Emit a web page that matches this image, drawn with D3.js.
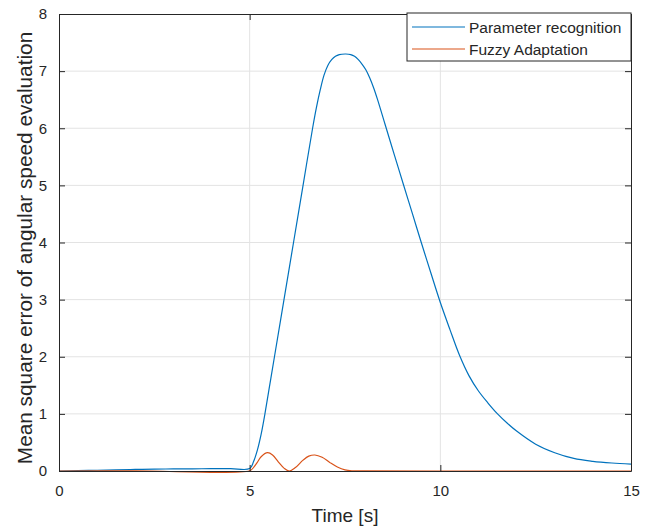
<!DOCTYPE html>
<html>
<head>
<meta charset="utf-8">
<script src="https://cdn.jsdelivr.net/npm/d3@7"></script>
<style>
  body { margin: 0; background: #fff; }
  text { font-family: "Liberation Sans", Arial, sans-serif; fill: #262626; }
</style>
</head>
<body>
<div id="chart"></div>
<script>
// values
var seriesNames = ["Parameter recognition", "Fuzzy Adaptation"];
var seriesColors = ["#0072bd", "#d95319"];

var tParam = [0, 0.5, 1, 1.5, 2, 2.5, 3, 3.5, 4, 4.5, 5.0, 5.1, 5.2, 5.3, 5.4, 5.52, 5.65, 5.9, 6.15, 6.4, 6.65, 6.75, 6.85, 6.95, 7.05, 7.15, 7.25, 7.35, 7.52, 7.65, 7.75, 7.85, 7.95, 8.05, 8.15, 8.25, 8.35, 8.55, 8.8, 9.03, 9.27, 9.5, 9.75, 10.0, 10.25, 10.5, 10.75, 11, 11.25, 11.5, 11.75, 12, 12.5, 13, 13.5, 14, 14.5, 15];
var vParam = [0, 0.006, 0.013, 0.02, 0.027, 0.032, 0.036, 0.038, 0.04, 0.041, 0.042, 0.16, 0.36, 0.64, 1.0, 1.48, 2.0, 3.0, 4.0, 5.0, 6.0, 6.36, 6.67, 6.93, 7.1, 7.2, 7.26, 7.29, 7.3, 7.29, 7.26, 7.2, 7.12, 7.02, 6.88, 6.71, 6.51, 6.07, 5.52, 5.02, 4.5, 4.0, 3.47, 2.95, 2.48, 2.03, 1.67, 1.4, 1.19, 1.0, 0.84, 0.7, 0.47, 0.32, 0.22, 0.17, 0.14, 0.12];

var tFuzzy = [0, 2, 5, 5.1, 5.2, 5.3, 5.47, 5.6, 5.75, 5.9, 6.04, 6.2, 6.4, 6.55, 6.71, 6.9, 7.1, 7.3, 7.5, 7.7, 8, 10, 15];
var vFuzzy = [0, 0.004, 0.005, 0.06, 0.15, 0.25, 0.32, 0.28, 0.16, 0.05, 0.0, 0.06, 0.19, 0.26, 0.28, 0.24, 0.15, 0.07, 0.02, 0.004, 0.001, 0, 0];

var xTicks = [0, 5, 10, 15];
var yTicks = [0, 1, 2, 3, 4, 5, 6, 7, 8];

var margin = {top: 14, right: 23, bottom: 56, left: 59},
    width = 654 - margin.left - margin.right,
    height = 527 - margin.top - margin.bottom;

var svg = d3.select("#chart")
  .append("svg")
    .attr("width", 654)
    .attr("height", 527)
  .append("g")
    .attr("transform", "translate(" + margin.left + "," + margin.top + ")");

var x = d3.scaleLinear().domain([0, 15]).range([0, width]);
var y = d3.scaleLinear().domain([0, 8]).range([height, 0]);

// grid
svg.append("g").selectAll("line")
  .data(xTicks.slice(1, -1))
  .enter().append("line")
    .attr("x1", function(d) { return x(d); })
    .attr("x2", function(d) { return x(d); })
    .attr("y1", 0).attr("y2", height)
    .attr("stroke", "#e3e3e3");
svg.append("g").selectAll("line")
  .data(yTicks.slice(1, -1))
  .enter().append("line")
    .attr("y1", function(d) { return y(d); })
    .attr("y2", function(d) { return y(d); })
    .attr("x1", 0).attr("x2", width)
    .attr("stroke", "#e3e3e3");

// lines
var line = d3.line()
  .x(function(d) { return x(d[0]); })
  .y(function(d) { return y(d[1]); })
  .curve(d3.curveCatmullRom.alpha(0.5));

var series = [d3.zip(tParam, vParam), d3.zip(tFuzzy, vFuzzy)];
svg.selectAll("path.series")
  .data(series)
  .enter().append("path")
    .attr("class", "series")
    .attr("d", line)
    .attr("fill", "none")
    .attr("stroke", function(d, i) { return seriesColors[i]; })
    .attr("stroke-width", 1.2);

// axes with inward ticks
function styleAxis(g) {
  g.select(".domain").attr("stroke", "#262626");
  g.selectAll(".tick line").attr("stroke", "#262626");
  g.selectAll(".tick text").style("font-size", "15px").attr("fill", "#262626");
}
svg.append("g")
  .attr("transform", "translate(0," + height + ")")
  .call(d3.axisBottom(x).tickValues(xTicks).tickSizeInner(-6).tickSizeOuter(0).tickPadding(14))
  .call(styleAxis);
svg.append("g")
  .call(d3.axisLeft(y).tickValues(yTicks).tickSizeInner(-6).tickSizeOuter(0).tickPadding(12))
  .call(styleAxis);
svg.append("g")
  .call(d3.axisTop(x).tickValues(xTicks).tickSizeInner(-6).tickSizeOuter(0).tickFormat(""))
  .call(styleAxis);
svg.append("g")
  .attr("transform", "translate(" + width + ",0)")
  .call(d3.axisRight(y).tickValues(yTicks).tickSizeInner(-6).tickSizeOuter(0).tickFormat(""))
  .call(styleAxis);

// axis labels
svg.append("text")
  .attr("x", width / 2)
  .attr("y", height + 51)
  .attr("text-anchor", "middle")
  .style("font-size", "19px")
  .text("Time [s]");
svg.append("text")
  .attr("transform", "rotate(-90)")
  .attr("x", -(height / 2 + 5.5))
  .attr("y", -27)
  .attr("text-anchor", "middle")
  .style("font-size", "20.8px")
  .text("Mean square error of angular speed evaluation");

// legend
var legend = svg.append("g").attr("transform", "translate(" + (width - 224) + ",-1)");
legend.append("rect")
  .attr("width", 224).attr("height", 48)
  .attr("fill", "#fff").attr("stroke", "#262626");
seriesNames.forEach(function(name, i) {
  legend.append("line")
    .attr("x1", 5).attr("x2", 58)
    .attr("y1", 14 + i * 22).attr("y2", 14 + i * 22)
    .attr("stroke", seriesColors[i]).attr("stroke-width", 1.2);
  legend.append("text")
    .attr("x", 62).attr("y", 19.5 + i * 22)
    .style("font-size", "15.5px")
    .text(name);
});
</script>
</body>
</html>
